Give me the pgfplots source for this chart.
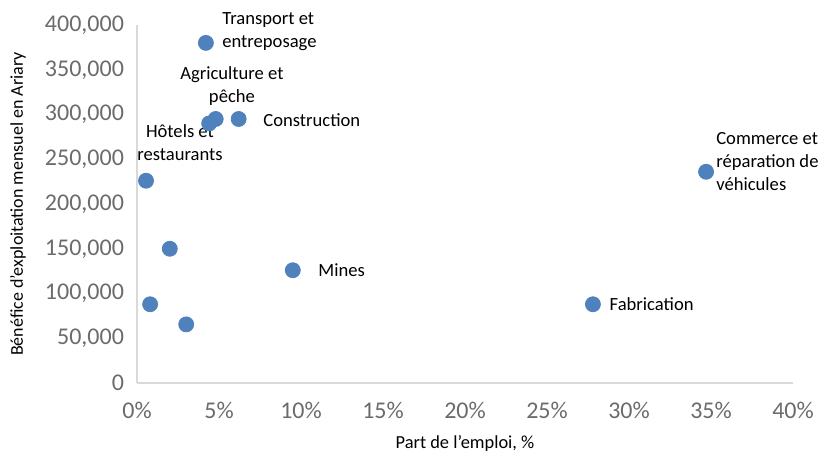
\documentclass[border=0pt]{standalone}
\usepackage{pgfplots}
\pgfplotsset{compat=1.18}
\usepackage{fontspec}
\setmainfont{Carlito}

\definecolor{ptblue}{HTML}{4F81BD}
\definecolor{ticktxt}{HTML}{6B6B6B}
\definecolor{axline}{HTML}{D9D9D9}

\begin{document}
\begin{tikzpicture}
  \begin{axis}[
      name=ax,
      scale only axis,
      width=328pt,
      height=179pt,
      xmin=0, xmax=40,
      ymin=0, ymax=400000,
      xtick={0,5,...,40},
      ytick={0,50000,...,400000},
      axis lines*=left,
      axis line style={axline, line width=0.8pt},
      major tick length=0pt,
      clip=false,
      /pgf/number format/assume math mode=true,
      /pgf/number format/.cd, fixed, 1000 sep={,},
      /pgfplots/.cd,
      scaled y ticks=false,
      xticklabel={\pgfmathprintnumber{\tick}\%},
      tick label style={ticktxt, font=\fontsize{12}{14}\selectfont},
      xticklabel style={yshift=-6pt},
      yticklabel style={xshift=-3pt},
    ]
    % part de l'emploi (%), benefice mensuel (Ariary)
    \addplot[only marks, mark=*, mark size=3.75pt,
             mark options={fill=ptblue, draw=ptblue}] coordinates {
      (4.2,380000)
      (4.4,290000)
      (4.8,295000)
      (6.2,295000)
      (0.55,226000)
      (2.0,150000)
      (0.8,88000)
      (3.0,65500)
      (9.5,126000)
      (27.8,88000)
      (34.7,236000)
    };

    \begin{scope}[every node/.style={font=\fontsize{9.3}{11.5}\selectfont, inner sep=0pt}]
      \node[anchor=west, align=left] at (axis cs:5.18,393000) {Transport et\\entreposage};
      \node[align=center] at (axis cs:5.79,332000) {Agriculture et\\pêche};
      \node[anchor=west] at (axis cs:7.68,294000) {Construction};
      \node[align=center] at (axis cs:2.62,269000) {Hôtels et\\restaurants};
      \node[anchor=west] at (axis cs:11.04,126000) {Mines};
      \node[anchor=west] at (axis cs:28.8,88000) {Fabrication};
      \node[anchor=west, align=left] at (axis cs:35.3,247000) {Commerce et\\réparation de\\véhicules};
    \end{scope}
  \end{axis}

  \node[rotate=90, font=\fontsize{9}{11}\selectfont] at ([xshift=-59.5pt]ax.west)
    {Bénéfice d’exploitation mensuel en Ariary};
  \node[font=\fontsize{9.2}{11}\selectfont] at ([yshift=-30pt]ax.south)
    {Part de l’emploi, \%};

  \pgfresetboundingbox
  \path ([shift={(-68.5pt,-37pt)}]ax.south west) rectangle ([shift={(342.5pt,191.5pt)}]ax.south west);
\end{tikzpicture}
\end{document}
